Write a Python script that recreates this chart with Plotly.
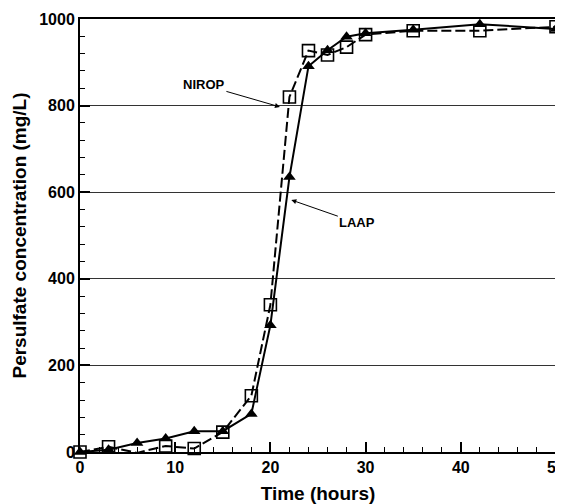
import plotly.graph_objects as go

time_laap = [0, 3, 6, 9, 12, 15, 18, 20, 22, 24, 26, 28, 30, 35, 42, 50]
conc_laap = [0, 5, 21, 31, 48, 48, 88, 293, 635, 891, 928, 959, 967, 975, 988, 977]

time_nirop = [0, 3, 6, 9, 12, 15, 18, 20, 22, 24, 26, 28, 30, 35, 42, 50]
conc_nirop = [0, 12, -2, 14, 8, 46, 130, 340, 820, 927, 917, 935, 964, 973, 973, 982]

x_ticks = [0, 10, 20, 30, 40, 50]
y_ticks = [0, 200, 400, 600, 800, 1000]

FONT = "Liberation Sans, Arial, sans-serif"

fig = go.Figure()
fig.add_trace(go.Scatter(
    x=time_laap, y=conc_laap, mode="lines+markers", name="LAAP",
    line=dict(color="black", width=2),
    marker=dict(symbol="triangle-up", size=11, color="black"),
    cliponaxis=False,
))
fig.add_trace(go.Scatter(
    x=time_nirop, y=conc_nirop, mode="lines+markers", name="NIROP",
    line=dict(color="black", width=2, dash="10px,4px"),
    marker=dict(symbol="square-open", size=12, color="black", line=dict(width=1.6)),
    cliponaxis=False,
))

fig.add_annotation(x=21.0, y=797, ax=-76, ay=-22, text="<b>NIROP</b>",
                   showarrow=True, arrowhead=2, arrowsize=1, arrowwidth=1,
                   arrowcolor="black", font=dict(family=FONT, size=13, color="black"))
fig.add_annotation(x=22.2, y=582, ax=66, ay=23, text="<b>LAAP</b>",
                   showarrow=True, arrowhead=2, arrowsize=1, arrowwidth=1,
                   arrowcolor="black", font=dict(family=FONT, size=13, color="black"))

fig.update_layout(
    width=555, height=496,
    margin=dict(l=72, r=7, t=11, b=52),
    paper_bgcolor="white", plot_bgcolor="white",
    showlegend=False,
    font=dict(family=FONT, color="black"),
)
fig.update_xaxes(
    range=[0, 50], tickvals=x_ticks, ticktext=[f"<b>{v}</b>" for v in x_ticks],
    tickfont=dict(size=16, family=FONT), automargin=False, ticklabeloverflow="allow",
    ticks="inside", ticklen=10, tickwidth=2, tickcolor="black",
    minor=dict(ticks="inside", ticklen=5, tickwidth=1, tickcolor="black", dtick=2, showgrid=False),
    showgrid=False, zeroline=False,
    showline=True, linecolor="black", linewidth=2, mirror=True,
    title=dict(text="<b>Time (hours)</b>", font=dict(size=19, family=FONT), standoff=11),
)
fig.update_yaxes(
    range=[0, 1000], tickvals=y_ticks, ticktext=[f"<b>{v}</b>" for v in y_ticks],
    tickfont=dict(size=16, family=FONT), automargin=False, ticklabeloverflow="allow",
    ticks="inside", ticklen=10, tickwidth=2, tickcolor="black",
    minor=dict(ticks="inside", ticklen=5, tickwidth=1, tickcolor="black", dtick=40, showgrid=False),
    showgrid=True, gridcolor="#333333", gridwidth=1, zeroline=False,
    showline=True, linecolor="black", linewidth=2, mirror=True,
    title=dict(text="<b>Persulfate concentration (mg/L)</b>", font=dict(size=19, family=FONT), standoff=8),
)

fig.write_html("out.html")
